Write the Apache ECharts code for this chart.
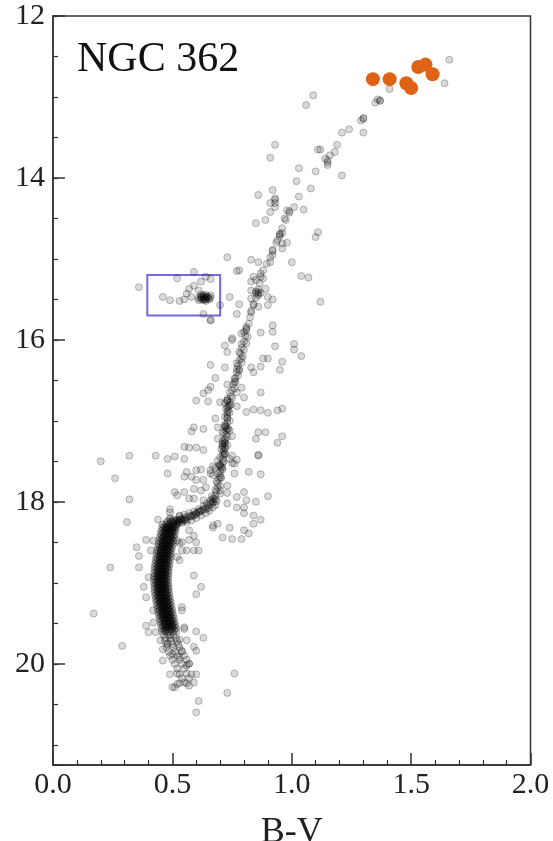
<!DOCTYPE html>
<html>
<head>
<meta charset="utf-8">
<script src="https://cdn.jsdelivr.net/npm/echarts@6/dist/echarts.min.js"></script>
<style>
  html, body { margin: 0; padding: 0; background: #fff; }
  #chart { width: 553px; height: 841px; }
</style>
</head>
<body>
<div id="chart"></div>
<script>
// NGC 362 colour-magnitude diagram: points are [B-V, V]

// Brightest red giants (highlighted)
const brightGiants = [
  [1.34,12.78],[1.41,12.78],[1.48,12.83],[1.50,12.89],[1.53,12.63],[1.56,12.60],[1.59,12.72]
];

// Upper red giant branch and RGB bump
const upperGiants = [
  [1.66,12.54],[1.64,12.83],[1.41,12.90],[1.37,13.04],[1.37,13.05],[1.36,13.03],[1.35,13.07],
  [1.09,12.98],[1.06,13.10],[1.30,13.26],[1.30,13.27],[1.29,13.29],[1.24,13.40],[1.21,13.44],
  [1.30,13.44],[1.19,13.59],[1.18,13.68],[1.16,13.72],[1.15,13.78],[1.14,13.76],[1.15,13.81],
  [1.15,13.84],[1.11,13.65],[1.12,13.65],[1.21,13.97],[1.10,13.92],[1.03,13.88],[1.02,14.04],
  [1.08,14.13],[1.03,14.23],[0.93,13.59],[0.91,13.75],[0.92,14.15],[0.86,14.21],[0.93,14.25],
  [1.05,14.39],[1.01,14.36],[0.99,14.41],[0.97,14.50],[0.93,14.27],[0.93,14.36],[0.91,14.31],
  [0.93,14.31],[0.91,14.42],[0.98,14.40],[0.85,14.56],[0.89,14.52],[0.95,14.69],[0.95,14.70],
  [0.96,14.68],[0.94,14.77],[0.98,14.80],[0.96,14.87],[0.92,14.89],[0.92,14.95],[0.91,15.04],
  [1.00,15.04],[0.96,14.81],[1.11,14.67],[1.10,14.73],[1.04,15.21],[1.07,15.23],[0.73,14.98],
  [0.83,15.01],[0.86,15.04],[0.77,15.15],[0.78,15.14],[0.87,15.18],[0.84,15.22],[0.83,15.28],
  [0.85,15.26],[0.88,15.24],[0.86,15.41],[0.86,15.43],[0.85,15.42],[0.87,15.42],[0.86,15.45],
  [0.85,15.40],[0.83,15.39],[0.89,15.37],[0.83,15.49],[0.90,15.47],[0.92,15.50],[0.84,15.57],
  [0.83,15.66],[0.86,15.59],[0.90,15.57],[0.74,15.47],[0.78,15.56],[0.77,15.68],[0.70,15.57],
  [1.12,15.53],[0.92,15.82],[0.81,15.84],[0.81,15.86],[0.80,15.90],[0.79,15.92],[0.87,15.91],
  [0.75,15.98],[0.66,15.75]
];

// Red clump / horizontal branch stars
const redClump = [
  [0.36,15.35],[0.46,15.47],[0.49,15.51],[0.53,15.52],[0.55,15.50],[0.58,15.47],[0.57,15.37],
  [0.59,15.33],[0.59,15.16],[0.62,15.28],[0.64,15.22],[0.66,15.25],[0.52,15.24],[0.56,15.43],
  [0.61,15.39],[0.61,15.48],[0.62,15.46],[0.62,15.50],[0.63,15.47],[0.63,15.49],[0.63,15.51],
  [0.64,15.46],[0.64,15.48],[0.64,15.50],[0.65,15.47],[0.65,15.49],[0.62,15.48],[0.63,15.45],
  [0.64,15.52],[0.66,15.48],[0.63,15.68],[0.66,15.76],[0.625,15.47],[0.635,15.50],[0.645,15.47],
  [0.655,15.50],[0.62,15.44],[0.66,15.45],[0.61,15.51],[0.64,15.44]
];

// Lower red giant branch
const lowerGiants = [
  [0.92,15.90],[0.72,16.07],[0.75,16.00],[0.73,16.15],[0.78,16.15],[0.79,16.05],[0.93,16.08],
  [1.01,16.05],[1.01,16.12],[1.04,16.20],[0.79,16.23],[0.88,16.23],[0.90,16.23],[0.96,16.27],
  [0.95,16.37],[0.66,16.31],[0.72,16.34],[0.77,16.29],[0.78,16.38],[0.77,16.36],[0.83,16.34],
  [0.84,16.40],[0.87,16.33],[0.68,16.47],[0.76,16.48],[0.76,16.52],[0.73,16.55],[0.66,16.58],
  [0.65,16.62],[0.63,16.66],[0.79,16.59],[0.77,16.65],[0.80,16.71],[0.87,16.65],[0.60,16.75],
  [0.65,16.76],[0.70,16.77],[0.73,16.75],[0.73,16.73],[0.72,16.78],[0.74,16.81],[0.73,16.83],
  [0.77,16.82],[0.73,16.89],[0.73,16.96],[0.81,16.89],[0.84,16.86],[0.87,16.87],[0.90,16.90],
  [0.94,16.87],[0.96,16.85],[0.68,16.97],[0.69,17.08],[0.72,17.08],[0.73,17.10],[0.72,17.06],
  [0.74,17.12],[0.71,17.14],[0.75,17.19],[0.69,17.22],[0.72,17.24],[0.59,17.08],[0.63,17.10],
  [0.58,17.13],[0.86,17.14],[0.89,17.14],[0.85,17.22],[0.96,17.19],[0.94,17.27],[0.71,17.32],
  [0.72,17.34],[0.71,17.30],[0.55,17.32],[0.57,17.33],[0.60,17.33],[0.63,17.36],[0.71,17.41],
  [0.74,17.47],[0.77,17.48],[0.69,17.49],[0.67,17.56],[0.70,17.56],[0.70,17.54],[0.71,17.58],
  [0.75,17.52],[0.86,17.43],[0.86,17.42],[0.32,17.43],[0.43,17.43],[0.48,17.47],[0.51,17.44],
  [0.55,17.47],[0.48,17.65],[0.56,17.63],[0.62,17.60],[0.55,17.69],[0.76,17.65],[0.82,17.63],
  [0.87,17.66],[0.66,17.61],[0.71,17.28],[0.72,17.28],[0.72,17.41],[0.75,17.43],[0.76,17.53],
  [0.68,17.58]
];

// Subgiant branch and turnoff
const subgiants = [
  [0.20,17.50],[0.26,17.71],[0.60,17.61],[0.58,17.69],[0.60,17.73],[0.63,17.73],[0.66,17.65],
  [0.67,17.67],[0.70,17.70],[0.64,17.82],[0.62,17.86],[0.59,17.84],[0.73,17.80],[0.70,17.86],
  [0.73,17.89],[0.55,17.88],[0.51,17.88],[0.52,17.92],[0.32,17.97],[0.57,17.96],[0.59,17.96],
  [0.63,17.98],[0.66,18.00],[0.67,18.01],[0.67,17.96],[0.68,17.97],[0.73,18.02],[0.77,17.94],
  [0.80,17.88],[0.81,17.98],[0.85,18.00],[0.90,17.93],[0.77,18.07],[0.80,18.07],[0.64,18.09],
  [0.65,18.08],[0.62,18.11],[0.61,18.12],[0.49,18.09],[0.49,18.13],[0.53,18.17],[0.49,18.20],
  [0.44,18.22],[0.59,18.17],[0.58,18.18],[0.60,18.15],[0.56,18.22],[0.55,18.23],[0.84,18.17],
  [0.80,18.14],[0.87,18.22],[0.84,18.27],[0.31,18.25],[0.67,18.32],[0.69,18.27],[0.74,18.32],
  [0.80,18.35],[0.71,18.44],[0.75,18.46],[0.79,18.46],[0.82,18.39],[0.53,18.25],[0.51,18.31],
  [0.48,18.32],[0.57,18.35],[0.59,18.42],[0.57,18.47],[0.60,18.50],[0.61,18.60],[0.39,18.47],
  [0.42,18.48],[0.35,18.56],[0.41,18.60],[0.52,18.48],[0.54,18.60],[0.59,18.60],[0.54,18.50],
  [0.67,18.29]
];

// Giant branch ridge, from the turnoff up the subgiant and red giant branches
const giantBranchCore = [
  [0.50,18.24],[0.52,18.23],[0.53,18.22],[0.54,18.21],[0.55,18.20],[0.56,18.19],[0.57,18.18],
  [0.58,18.17],[0.59,18.16],[0.60,18.14],[0.61,18.13],[0.62,18.11],[0.63,18.09],[0.64,18.07],
  [0.65,18.05],[0.66,18.03],[0.67,18.00],[0.675,17.96],[0.68,17.92],[0.685,17.87],[0.69,17.82],
  [0.69,17.77],[0.695,17.72],[0.70,17.67],[0.70,17.62],[0.705,17.57],[0.71,17.52],[0.71,17.47],
  [0.715,17.42],[0.715,17.37],[0.72,17.32],[0.72,17.27],[0.72,17.22],[0.725,17.17],[0.725,17.12],
  [0.725,17.07],[0.73,17.02],[0.73,16.97],[0.73,16.92],[0.735,16.87],[0.735,16.82],[0.74,16.77],
  [0.745,16.70],[0.75,16.62],[0.755,16.55],[0.765,16.47],[0.77,16.40],[0.775,16.32],[0.78,16.25],
  [0.785,16.17],[0.79,16.10],[0.80,16.02],[0.805,15.95],[0.81,15.88],[0.82,15.80],[0.825,15.72],
  [0.83,15.64],[0.84,15.56],[0.85,15.48],[0.86,15.38],[0.865,15.30],[0.87,15.22],[0.88,15.14],
  [0.895,15.06],[0.91,14.98],[0.92,14.90],[0.935,14.80],[0.95,14.72],[0.96,14.62],[0.975,14.52],
  [0.99,14.43],
  [0.52,18.27],[0.54,18.26],[0.56,18.25],[0.58,18.23],[0.60,18.20],[0.62,18.17],[0.64,18.14],
  [0.655,18.11],[0.67,18.07],[0.68,18.04],[0.685,17.99],[0.53,18.18],[0.55,18.16],[0.57,18.14],
  [0.59,18.12],[0.61,18.09],[0.63,18.05],[0.645,18.02],[0.66,17.98],[0.665,17.93],
  [0.70,17.90],[0.70,17.80],[0.705,17.70],[0.71,17.60],[0.715,17.50],[0.72,17.40],[0.73,17.30],
  [0.73,17.20],[0.735,17.10],[0.74,17.00],[0.74,16.90],[0.745,16.80],[0.75,16.72],[0.76,16.60],
  [0.765,16.52],[0.775,16.44],[0.78,16.36],[0.79,16.28],[0.795,16.20],[0.80,16.12],[0.81,16.04],
  [0.815,15.96],[0.68,17.85],[0.685,17.75],[0.69,17.65],[0.695,17.55],[0.70,17.45],[0.705,17.35],
  [0.71,17.25],[0.715,17.15],[0.72,17.05],[0.72,16.95],[0.725,16.85],[0.73,16.75],[0.74,16.65]
];

// Main sequence ridge: each row is [V, [B-V, ...]]
const mainSequenceRows = [
  [18.22, [0.490,0.505,0.520,0.535,0.550]],
  [18.24, [0.480,0.495,0.510,0.525,0.540]],
  [18.26, [0.475,0.490,0.505,0.520]],
  [18.28, [0.459,0.474,0.489,0.504,0.519]],
  [18.30, [0.465,0.480,0.495,0.510]],
  [18.31, [0.475,0.489,0.503]],
  [18.32, [0.456,0.471,0.486,0.501,0.516]],
  [18.34, [0.462,0.477,0.492,0.507]],
  [18.35, [0.472,0.486,0.500]],
  [18.36, [0.453,0.468,0.483,0.498,0.513]],
  [18.38, [0.459,0.474,0.489,0.504]],
  [18.39, [0.469,0.483,0.497]],
  [18.40, [0.450,0.465,0.480,0.495,0.510]],
  [18.42, [0.457,0.472,0.487,0.502]],
  [18.43, [0.466,0.480,0.494]],
  [18.44, [0.447,0.462,0.477,0.492,0.507]],
  [18.46, [0.454,0.469,0.484,0.499]],
  [18.47, [0.463,0.477,0.491]],
  [18.48, [0.444,0.459,0.474,0.489,0.504]],
  [18.50, [0.451,0.466,0.481,0.496]],
  [18.51, [0.461,0.475,0.489]],
  [18.52, [0.442,0.457,0.472,0.487,0.502]],
  [18.54, [0.448,0.463,0.478,0.493]],
  [18.55, [0.458,0.472,0.486]],
  [18.56, [0.439,0.454,0.469,0.484,0.499]],
  [18.58, [0.446,0.461,0.476,0.491]],
  [18.59, [0.455,0.469,0.483]],
  [18.60, [0.436,0.451,0.466,0.481,0.496]],
  [18.62, [0.443,0.458,0.473,0.488]],
  [18.63, [0.453,0.467,0.481]],
  [18.64, [0.434,0.449,0.464,0.479,0.494]],
  [18.66, [0.441,0.456,0.471,0.486]],
  [18.67, [0.451,0.465,0.479]],
  [18.68, [0.432,0.447,0.462,0.477,0.492]],
  [18.70, [0.439,0.454,0.469,0.484]],
  [18.71, [0.449,0.463,0.477]],
  [18.72, [0.430,0.445,0.460,0.475,0.490]],
  [18.74, [0.437,0.452,0.467,0.482]],
  [18.75, [0.447,0.461,0.475]],
  [18.76, [0.428,0.443,0.458,0.473,0.488]],
  [18.78, [0.435,0.450,0.465,0.480]],
  [18.79, [0.445,0.459,0.473]],
  [18.80, [0.426,0.441,0.456,0.471,0.486]],
  [18.82, [0.434,0.449,0.464,0.479]],
  [18.83, [0.444,0.458,0.472]],
  [18.84, [0.425,0.440,0.455,0.470,0.485]],
  [18.86, [0.433,0.448,0.463,0.478]],
  [18.87, [0.443,0.457,0.471]],
  [18.88, [0.424,0.439,0.454,0.469,0.484]],
  [18.90, [0.432,0.447,0.462,0.477]],
  [18.91, [0.442,0.456,0.470]],
  [18.92, [0.423,0.438,0.453,0.468,0.483]],
  [18.94, [0.431,0.446,0.461,0.476]],
  [18.95, [0.441,0.455,0.469]],
  [18.96, [0.423,0.438,0.453,0.468,0.483]],
  [18.98, [0.431,0.446,0.461,0.476]],
  [18.99, [0.441,0.455,0.469]],
  [19.00, [0.423,0.438,0.453,0.468,0.483]],
  [19.02, [0.432,0.447,0.462,0.477]],
  [19.03, [0.442,0.456,0.470]],
  [19.04, [0.424,0.439,0.454,0.469,0.484]],
  [19.06, [0.433,0.448,0.463,0.478]],
  [19.07, [0.443,0.457,0.471]],
  [19.08, [0.425,0.440,0.455,0.470,0.485]],
  [19.10, [0.434,0.449,0.464,0.479]],
  [19.11, [0.444,0.458,0.472]],
  [19.12, [0.426,0.441,0.456,0.471,0.486]],
  [19.14, [0.435,0.450,0.465,0.480]],
  [19.15, [0.446,0.460,0.474]],
  [19.16, [0.428,0.443,0.458,0.473,0.488]],
  [19.18, [0.437,0.452,0.467,0.482]],
  [19.19, [0.448,0.462,0.476]],
  [19.20, [0.430,0.445,0.460,0.475,0.490]],
  [19.22, [0.439,0.454,0.469,0.484]],
  [19.23, [0.450,0.464,0.478]],
  [19.24, [0.433,0.448,0.463,0.478,0.493]],
  [19.26, [0.442,0.457,0.472,0.487]],
  [19.27, [0.453,0.467,0.481]],
  [19.28, [0.435,0.450,0.465,0.480,0.495]],
  [19.30, [0.444,0.459,0.474,0.489]],
  [19.31, [0.455,0.469,0.483]],
  [19.32, [0.438,0.453,0.468,0.483,0.498]],
  [19.34, [0.447,0.462,0.477,0.492]],
  [19.35, [0.458,0.472,0.486]],
  [19.36, [0.440,0.455,0.470,0.485,0.500]],
  [19.38, [0.449,0.464,0.479,0.494]],
  [19.39, [0.460,0.474,0.488]],
  [19.40, [0.443,0.458,0.473,0.488,0.503]],
  [19.42, [0.452,0.467,0.482,0.497]],
  [19.43, [0.463,0.477,0.491]],
  [19.44, [0.446,0.461,0.476,0.491,0.506]],
  [19.46, [0.455,0.470,0.485,0.500]],
  [19.47, [0.466,0.480,0.494]],
  [19.48, [0.449,0.464,0.479,0.494,0.509]],
  [19.50, [0.458,0.473,0.488,0.503]],
  [19.51, [0.469,0.483,0.497]],
  [19.52, [0.452,0.467,0.482,0.497,0.512]],
  [19.54, [0.461,0.476,0.491,0.506]],
  [19.55, [0.472,0.486,0.500]],
  [19.56, [0.455,0.470,0.485,0.500,0.515]],
  [19.58, [0.464,0.479,0.494,0.509]],
  [19.60, [0.457,0.472,0.487,0.502,0.517]],
  [19.64, [0.462,0.482,0.505]],
  [19.68, [0.470,0.492,0.515]],
  [19.72, [0.468,0.495,0.520]],
  [19.76, [0.478,0.500,0.525]],
  [19.80, [0.475,0.505,0.530]],
  [19.85, [0.485,0.512,0.540]],
  [19.90, [0.490,0.520,0.550]],
  [19.95, [0.500,0.530,0.560]],
  [20.00, [0.510,0.540,0.570]],
  [20.06, [0.520,0.550]],
  [20.12, [0.520,0.560]],
  [20.18, [0.540,0.570]],
  [20.24, [0.530,0.560]]
];

// Main sequence spread and field stars below the turnoff
const mainSequence = [
  [0.24,18.81],[0.36,18.67],[0.36,18.81],[0.40,18.93],[0.39,19.18],[0.39,19.53],[0.42,19.49],
  [0.17,19.38],[0.29,19.78],[0.52,18.68],[0.59,18.91],[0.62,19.05],[0.60,19.14],[0.54,19.34],
  [0.55,19.57],[0.60,19.60],[0.63,19.68],[0.59,19.79],[0.60,19.84],[0.53,19.70],[0.46,19.82],
  [0.50,19.88],[0.54,19.84],[0.56,20.02],[0.53,20.13],[0.49,20.13],[0.60,20.13],[0.59,20.23],
  [0.55,20.23],[0.51,20.29],[0.57,20.27],[0.76,20.12],[0.73,20.36],[0.61,20.46],[0.60,20.60],
  [0.43,19.61],[0.47,19.59],[0.49,19.65],[0.45,19.71],[0.48,19.75],[0.53,18.51],[0.56,18.60],
  [0.53,18.72],[0.54,19.30],[0.55,19.55],[0.56,19.71],[0.53,19.92],[0.57,20.00],[0.58,20.13],
  [0.52,20.25],[0.40,19.61],[0.46,19.96],[0.50,20.29],[0.38,19.05],[0.42,19.34]
];

// Box around the red clump: [B-V, V] corners
const clumpBox = [[0.395, 15.20], [0.70, 15.70]];

const xTicks = { min: 0, max: 2, major: 0.5, minorSplit: 5 };
const yTicks = { min: 12, max: 21.25, major: 2, minor: 0.5 };

const mainSequenceCore = [];
mainSequenceRows.forEach(([v, colours]) => colours.forEach(bv => mainSequenceCore.push([bv, v])));

const serif = 'Liberation Serif, DejaVu Serif, serif';
const axisColor = '#333';
const greyStar = {
  type: 'scatter',
  symbolSize: 7,
  itemStyle: { color: 'rgba(0,0,0,0.18)', borderColor: 'rgba(0,0,0,0.3)', borderWidth: 1 },
  emphasis: { disabled: true },
  silent: true
};

const chart = echarts.init(document.getElementById('chart'), null, { renderer: 'canvas' });
chart.setOption({
  animation: false,
  backgroundColor: '#fff',
  grid: {
    left: 53, right: 22.5, top: 16, bottom: 76,
    outerBoundsMode: 'none', containLabel: false,
    show: true, borderColor: axisColor, borderWidth: 1.5, backgroundColor: 'transparent'
  },
  graphic: [{
    type: 'text', left: 77, top: 39,
    style: { text: 'NGC 362', font: '42px ' + serif, fill: '#111' }
  }],
  xAxis: {
    type: 'value', min: xTicks.min, max: xTicks.max, interval: xTicks.major,
    name: 'B-V', nameLocation: 'middle', nameGap: 50,
    nameTextStyle: { fontFamily: serif, fontSize: 36, color: '#222' },
    axisLine: { onZero: false, lineStyle: { color: axisColor, width: 1.5 } },
    axisTick: { inside: true, length: 12, lineStyle: { color: axisColor, width: 1.5 } },
    minorTick: { show: true, splitNumber: xTicks.minorSplit, length: 5, lineStyle: { color: axisColor, width: 1.2 } },
    axisLabel: { fontFamily: serif, fontSize: 30, color: '#222', margin: 5,
      formatter: v => v.toFixed(1) },
    splitLine: { show: false }
  },
  yAxis: [{
    type: 'value', inverse: true, min: yTicks.min, max: yTicks.max, interval: yTicks.major,
    axisLine: { onZero: false, lineStyle: { color: axisColor, width: 1.5 } },
    axisTick: { inside: true, length: 12, lineStyle: { color: axisColor, width: 1.5 } },
    axisLabel: { fontFamily: serif, fontSize: 30, color: '#222', margin: 8,
      formatter: v => (v % 2 === 0 ? String(v) : '') },
    splitLine: { show: false }
  }, {
    type: 'value', inverse: true, min: yTicks.min, max: yTicks.max, interval: yTicks.minor,
    position: 'left',
    axisLine: { show: false },
    axisTick: { inside: true, length: 5, lineStyle: { color: axisColor, width: 1.2 } },
    axisLabel: { show: false },
    splitLine: { show: false }
  }],
  series: [
    Object.assign({ data: upperGiants }, greyStar),
    Object.assign({ data: redClump }, greyStar),
    Object.assign({ data: lowerGiants }, greyStar),
    Object.assign({ data: subgiants }, greyStar),
    Object.assign({ data: giantBranchCore }, greyStar),
    Object.assign({ data: mainSequenceCore }, greyStar),
    Object.assign({ data: mainSequence }, greyStar),
    {
      type: 'scatter', data: [], silent: true,
      markArea: {
        silent: true,
        itemStyle: { color: 'rgba(0,0,0,0)', borderColor: '#7367e3', borderWidth: 2 },
        data: [[{ coord: clumpBox[0] }, { coord: clumpBox[1] }]]
      }
    },
    {
      type: 'scatter', data: brightGiants, symbolSize: 14, silent: true,
      itemStyle: { color: '#de6317', opacity: 1 }
    }
  ]
});
</script>
</body>
</html>
